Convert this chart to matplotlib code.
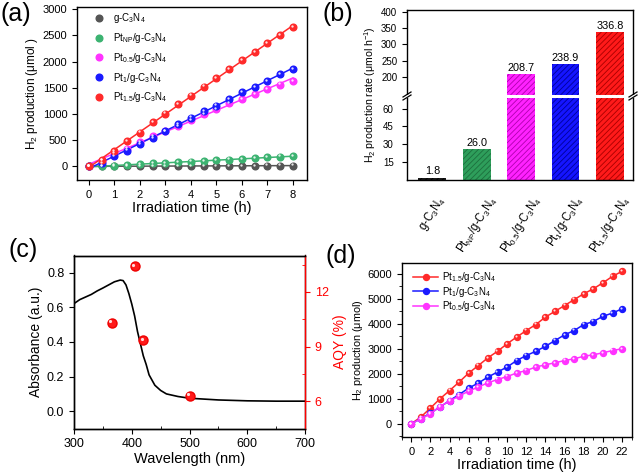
import numpy as np
import matplotlib
matplotlib.use('Agg')
import matplotlib.pyplot as plt
from matplotlib.lines import Line2D
from matplotlib.transforms import ScaledTranslation
from matplotlib.ticker import MultipleLocator

plt.rcParams['font.family'] = ['Liberation Sans', 'DejaVu Sans']
plt.rcParams['mathtext.fontset'] = 'custom'
plt.rcParams['mathtext.rm'] = 'Liberation Sans'
plt.rcParams['mathtext.it'] = 'Liberation Sans:italic'
plt.rcParams['mathtext.bf'] = 'Liberation Sans:bold'
plt.rcParams['axes.linewidth'] = 1.0
plt.rcParams['xtick.direction'] = 'out'
plt.rcParams['ytick.direction'] = 'out'
plt.rcParams['xtick.major.size'] = 3.5
plt.rcParams['ytick.major.size'] = 3.5
plt.rcParams['xtick.minor.size'] = 2
plt.rcParams['ytick.minor.size'] = 2
plt.rcParams['hatch.linewidth'] = 0.6

# ---- (a) H2 evolution over 8 h ----
t_a = [0, 0.5, 1, 1.5, 2, 2.5, 3, 3.5, 4, 4.5, 5, 5.5, 6, 6.5, 7, 7.5, 8]
h2_gcn = [0, 1, 2, 3, 4, 5, 6, 7, 7, 8, 9, 10, 11, 12, 13, 14, 15]
h2_ptnp = [0, 5, 15, 28, 40, 55, 68, 80, 92, 105, 115, 128, 140, 155, 170, 185, 200]
h2_pt05 = [0, 110, 260, 340, 460, 580, 670, 770, 880, 990, 1090, 1200, 1290, 1380, 1480, 1560, 1630]
h2_pt1 = [0, 60, 190, 300, 420, 540, 680, 800, 930, 1050, 1160, 1290, 1410, 1510, 1630, 1760, 1860]
h2_pt15 = [0, 125, 295, 480, 643, 847, 1006, 1190, 1350, 1520, 1680, 1850, 2025, 2185, 2344, 2510, 2656]
labels_a = ['g-C$_3$N$_4$', 'Pt$_{\\mathrm{NP}}$/g-C$_3$N$_4$', 'Pt$_{0.5}$/g-C$_3$N$_4$',
            'Pt$_1$/g-C$_3$N$_4$', 'Pt$_{1.5}$/g-C$_3$N$_4$']
colors_a = ['#555555', '#3cb371', '#ff33ff', '#1a1aff', '#ff2a2a']

# ---- (b) H2 production rate ----
cats_b = ['g-C$_3$N$_4$', 'Pt$_{\\mathrm{NP}}$/g-C$_3$N$_4$', 'Pt$_{0.5}$/g-C$_3$N$_4$',
          'Pt$_1$/g-C$_3$N$_4$', 'Pt$_{1.5}$/g-C$_3$N$_4$']
rate_b = [1.8, 26.0, 208.7, 238.9, 336.8]
face_b = ['#1a1a1a', '#2e9e5b', '#ff22ff', '#1515ff', '#ff1a1a']
hatch_b = ['#000000', '#1c6e3d', '#b000b0', '#00009a', '#a80000']

# ---- (c) absorbance and AQY ----
wl_c = [300, 310, 320, 330, 340, 350, 360, 370, 380, 385, 390, 395, 400, 405, 410, 415,
        420, 425, 430, 440, 450, 460, 480, 500, 550, 600, 650, 700]
abs_c = [0.622, 0.645, 0.660, 0.675, 0.695, 0.712, 0.730, 0.748, 0.758, 0.755, 0.73, 0.68,
         0.62, 0.55, 0.46, 0.39, 0.32, 0.27, 0.21, 0.15, 0.12, 0.10, 0.085, 0.075, 0.065,
         0.06, 0.058, 0.058]
wl_aqy = [365, 405, 420, 500]
aqy = [10.3, 13.4, 9.35, 6.3]

# ---- (d) long-term H2 production ----
t_d = list(range(23))
d_pt15 = [0, 270, 630, 1000, 1330, 1670, 2030, 2330, 2640, 2900, 3200, 3470, 3730, 3970,
          4270, 4500, 4730, 4970, 5200, 5400, 5640, 5900, 6100]
d_pt1 = [0, 200, 430, 670, 930, 1170, 1430, 1630, 1870, 2070, 2270, 2530, 2730, 2900,
         3100, 3330, 3560, 3730, 3970, 4090, 4300, 4430, 4600]
d_pt05 = [0, 200, 400, 690, 910, 1110, 1310, 1470, 1640, 1770, 1890, 2030, 2130, 2270,
          2360, 2440, 2530, 2600, 2700, 2760, 2840, 2930, 3000]
labels_d = ['Pt$_{1.5}$/g-C$_3$N$_4$', 'Pt$_1$/g-C$_3$N$_4$', 'Pt$_{0.5}$/g-C$_3$N$_4$']
colors_d = ['#ff2a2a', '#1a1aff', '#ff33ff']

fig = plt.figure(figsize=(6.38, 4.74), dpi=100)
W, H = 638, 474


def pos(l, t, r, b):
    return [l / W, 1 - b / H, (r - l) / W, (b - t) / H]


def shine(ax, x, y, size):
    # small white highlight so markers look like spheres
    off = ax.transData + ScaledTranslation(-size * 0.18 / 72, size * 0.18 / 72, fig.dpi_scale_trans)
    ax.plot(x, y, 'o', ms=size * 0.35, color='white', alpha=0.85, mec='none',
            transform=off, zorder=5)


def box(ax):
    ax.tick_params(top=False, right=False)


# (a)
ax_a = fig.add_axes(pos(77, 7, 307, 180))
series_a = [h2_gcn, h2_ptnp, h2_pt05, h2_pt1, h2_pt15]
for ys, c, lab in zip(series_a, colors_a, labels_a):
    k, b0 = np.polyfit(t_a, ys, 1)
    xx = np.array([0, 8])
    ax_a.plot(xx, k * xx + b0, '-', color=c, lw=1.1, zorder=2)
    ax_a.plot(t_a, ys, 'o', color=c, ms=4.8, mec=c, label=lab, zorder=4)
    shine(ax_a, t_a, ys, 4.8)
ax_a.set_xlim(-0.47, 8.55)
ax_a.set_ylim(-260, 3040)
ax_a.set_xticks(range(9))
ax_a.set_yticks(range(0, 3001, 500))
ax_a.tick_params(labelsize=8)
ax_a.set_xlabel('Irradiation time (h)', fontsize=10.5, labelpad=1)
ax_a.set_ylabel('H$_2$ production (μmol )', fontsize=8.5, labelpad=2)
ax_a.legend(loc='upper left', bbox_to_anchor=(0.05, 1.01), frameon=False, fontsize=7,
            handlelength=1.0, handletextpad=0.9, labelspacing=0.6, borderaxespad=0.2)
box(ax_a)

# (b) broken axis bar chart
ax_hi = fig.add_axes(pos(407, 10, 633, 96))
ax_lo = fig.add_axes(pos(407, 96, 633, 180))
xb = np.arange(len(rate_b))
for ax in (ax_hi, ax_lo):
    ax.bar(xb, rate_b, width=0.63, color=face_b, edgecolor=hatch_b, linewidth=0,
           hatch='//////', zorder=2)
    ax.set_xlim(-0.57, 4.52)
    ax.tick_params(labelsize=7)
ax_hi.set_ylim(142, 405)
ax_lo.set_ylim(0, 70.5)
ax_hi.set_yticks([200, 250, 300, 350, 400])
ax_lo.set_yticks([15, 30, 45, 60])
ax_hi.spines['bottom'].set_visible(False)
ax_lo.spines['top'].set_visible(False)
ax_hi.tick_params(bottom=False, labelbottom=False, top=False, right=False)
ax_lo.tick_params(top=False, right=False, bottom=False, pad=6)
ax_lo.set_xticks(xb)
ax_lo.set_xticklabels(cats_b, rotation=58, ha='center', fontsize=8.3)
for i, v in enumerate(rate_b):
    target = ax_lo if v < 70 else ax_hi
    target.text(xb[i], v + (1.2 if v < 70 else 4), f'{v:.1f}', ha='center', va='bottom',
                fontsize=7.8)
# white gap through the bars at the break
fig.add_artist(Line2D([407 / W, 633 / W], [1 - 96 / H, 1 - 96 / H], color='white', lw=2.2))
for xs in (407, 633):
    for dy in (-1.5, 1.5):
        yc = 96 + dy
        fig.add_artist(Line2D([(xs - 4) / W, (xs + 4) / W],
                              [1 - (yc + 2.5) / H, 1 - (yc - 2.5) / H], color='black', lw=0.9))
fig.text(370 / W, 1 - 95 / H, 'H$_2$ production rate (μmol h$^{-1}$)', rotation=90,
         ha='center', va='center', fontsize=7.6)

# (c)
ax_c = fig.add_axes(pos(74, 255.5, 305, 428.5))
ax_c.plot(wl_c, abs_c, '-', color='black', lw=1.2)
ax_c.set_xlim(300, 700)
ax_c.set_ylim(-0.1, 0.9)
ax_c.set_xticks([300, 400, 500, 600, 700])
ax_c.set_yticks([0.0, 0.2, 0.4, 0.6, 0.8])
ax_c.xaxis.set_minor_locator(MultipleLocator(50))
ax_c.tick_params(which='minor', axis='x', direction='in')
ax_c.tick_params(labelsize=9)
ax_c.set_xlabel('Wavelength (nm)', fontsize=10.5, labelpad=1)
ax_c.set_ylabel('Absorbance (a.u.)', fontsize=10, labelpad=3)
ax_c.tick_params(top=False)
ax_r = ax_c.twinx()
ax_r.plot(wl_aqy, aqy, 'o', color='#ff1a1a', ms=6.5, mec='#ee0000', zorder=4)
shine(ax_r, wl_aqy, aqy, 6.5)
ax_r.set_ylim(4.5, 14)
ax_r.set_yticks([6, 9, 12])
ax_r.yaxis.set_minor_locator(MultipleLocator(1.5))
ax_r.tick_params(which='minor', axis='y', direction='in', colors='red')
ax_r.tick_params(axis='y', colors='red', labelsize=9)
ax_r.spines['right'].set_color('red')
ax_r.set_ylabel('AQY (%)', color='red', fontsize=10, labelpad=3)

# (d)
ax_d = fig.add_axes(pos(401.7, 263.3, 631.7, 437))
for ys, c, lab in zip([d_pt15, d_pt1, d_pt05], colors_d, labels_d):
    ax_d.plot(t_d, ys, '-o', color=c, lw=1.1, ms=4.3, mec=c, label=lab, zorder=3)
    shine(ax_d, t_d, ys, 4.3)
ax_d.set_xlim(-1, 23)
ax_d.set_ylim(-530, 6420)
ax_d.set_xticks(range(0, 23, 2))
ax_d.set_yticks(range(0, 6001, 1000))
ax_d.xaxis.set_minor_locator(MultipleLocator(1))
ax_d.yaxis.set_minor_locator(MultipleLocator(500))
ax_d.tick_params(labelsize=8)
ax_d.set_xlabel('Irradiation time (h)', fontsize=10.5, labelpad=1)
ax_d.set_ylabel('H$_2$ production (μmol)', fontsize=7.8, labelpad=2)
ax_d.legend(loc='upper left', bbox_to_anchor=(0.02, 1.0), frameon=False, fontsize=7,
            handlelength=2.6, handletextpad=0.4, labelspacing=0.05, borderaxespad=0.3)
box(ax_d)

# panel letters
fig.text(0 / W, 1 - 14 / H, '(a)', fontsize=18, va='center', ha='left')
fig.text(323 / W, 1 - 14 / H, '(b)', fontsize=18, va='center', ha='left')
fig.text(9 / W, 1 - 250 / H, '(c)', fontsize=18, va='center', ha='left')
fig.text(325 / W, 1 - 256 / H, '(d)', fontsize=18, va='center', ha='left')

fig.savefig('out.png', dpi=100)
